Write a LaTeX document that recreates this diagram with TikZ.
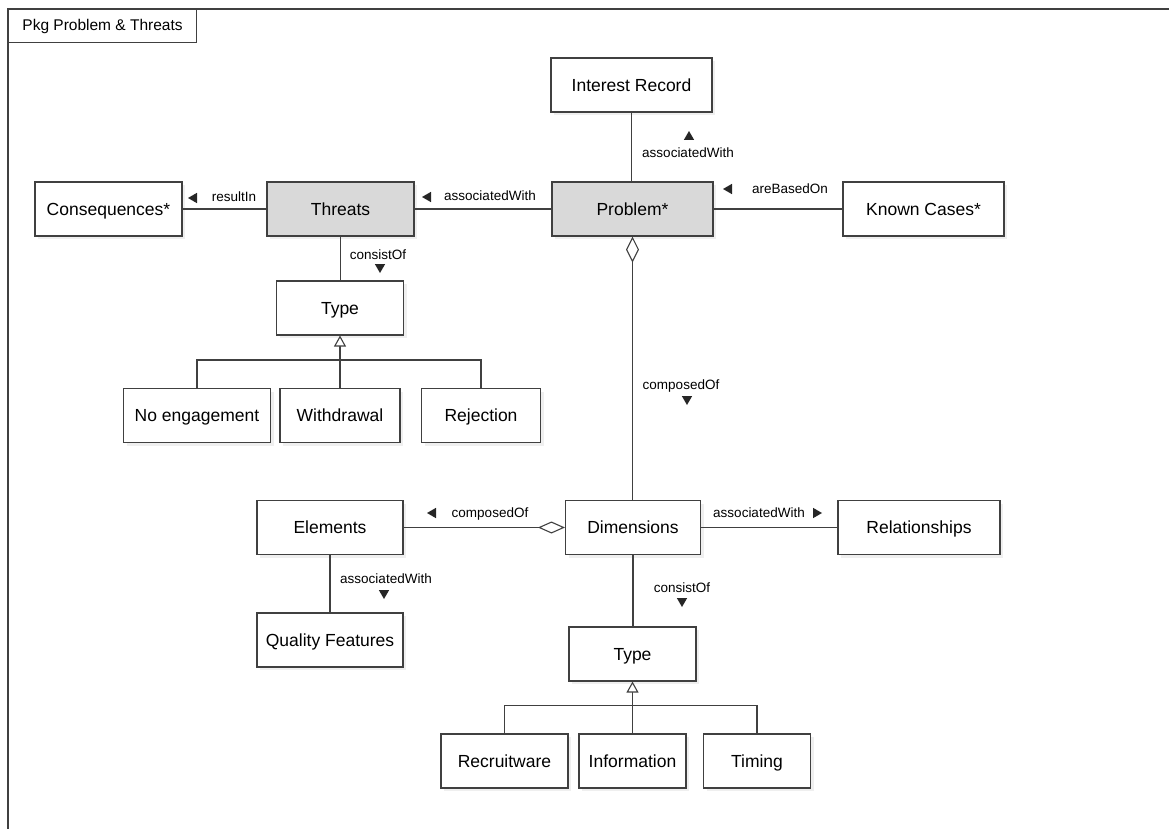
\documentclass[tikz,border=0pt]{standalone}
\usepackage{fontspec}
\setmainfont{Liberation Sans}
\usetikzlibrary{arrows.meta,shapes.geometric,shadows}

\begin{document}
\begin{tikzpicture}[x=1pt,y=-1pt,
    box/.style={draw=black!75,line width=1.1pt,fill=white,minimum height=54pt,inner sep=2pt,
      font=\fontsize{17.5}{20}\selectfont,text height=12.7pt,text depth=0.5pt,
      drop shadow={shadow xshift=3pt,shadow yshift=-3pt,fill=black!10,opacity=0.6}},
    greybox/.style={box,fill=black!15},
    lbl/.style={font=\fontsize{13.5}{15}\selectfont,inner sep=0pt,text height=9.7pt,text depth=0.5pt},
    tri/.style={regular polygon,regular polygon sides=3,fill=black!85,minimum size=12pt,inner sep=0pt},
    conn/.style={draw=black!75,line width=1.1pt}]
  \useasboundingbox (0,0) rectangle (1169,829);

  % package frame
  \draw[black!75,line width=1.6pt] (1169,9) -- (8,9) -- (8,829);
  \node[draw=black!75,line width=1.1pt,fill=white,anchor=north west,minimum width=188pt,minimum height=33pt,
    font=\fontsize{15.5}{17}\selectfont] (pkg) at (8,9) {Pkg Problem \& Threats};

  % classes
  \node[box,minimum width=161pt] (ir) at (631.5,85) {Interest Record};
  \node[greybox,minimum width=161pt] (prob) at (632.5,209) {Problem*};
  \node[greybox,minimum width=147pt] (thr) at (340.5,209) {Threats};
  \node[box,minimum width=147pt] (cons) at (108.5,209) {Consequences*};
  \node[box,minimum width=161pt] (known) at (923.5,209) {Known Cases*};
  \node[box,minimum width=127pt] (typeA) at (340,308) {Type};
  \node[box,minimum width=147pt] (noeng) at (197,415.5) {No engagement};
  \node[box,minimum width=120pt] (wd) at (340,415.5) {Withdrawal};
  \node[box,minimum width=119pt] (rej) at (481,415.5) {Rejection};
  \node[box,minimum width=146pt] (elem) at (330,527.5) {Elements};
  \node[box,minimum width=135pt] (dims) at (633,527.5) {Dimensions};
  \node[box,minimum width=162pt] (rel) at (919,527.5) {Relationships};
  \node[box,minimum width=146pt] (qf) at (330,640) {Quality Features};
  \node[box,minimum width=127pt] (typeB) at (632.5,654) {Type};
  \node[box,minimum width=127pt] (recr) at (504.5,761) {Recruitware};
  \node[box,minimum width=107pt] (info) at (632.5,761) {Information};
  \node[box,minimum width=107pt] (tim) at (757,761) {Timing};

  % associations
  \begin{scope}[conn]
    \draw (ir.south) to (ir.south |- prob.north);
    \draw (thr) to (prob);
    \draw (cons) to (thr);
    \draw (prob) to (known);
    \draw (thr.south) to (thr.south |- typeA.north);
    \draw[{Diamond[open,fill=white,width=13pt,length=26pt]}-] (prob.south) to (prob.south |- dims.north);
    \draw[{Diamond[open,fill=white,width=12pt,length=27pt]}-] (dims) to (elem);
    \draw (dims) to (rel);
    \draw (elem) to (qf);
    \draw (dims.south) to (dims.south |- typeB.north);
    % generalisations
    \draw[-{Triangle[open,fill=white,width=12pt,length=11pt]}] (wd.north) to (wd.north |- typeA.south);
    \draw (noeng.north) -- ++(0,-28) -| (rej.north);
    \draw[-{Triangle[open,fill=white,width=12pt,length=11pt]}] (info.north) to (info.north |- typeB.south);
    \draw (recr.north) -- ++(0,-28) -| (tim.north);
  \end{scope}

  % role names
  \node[lbl] (lIr) at (688,153) {associatedWith};
  \node[tri] (aIr) at (689,137) {};
  \node[lbl] (lTp) at (490,196) {associatedWith};
  \node[tri,regular polygon rotate=90] (aTp) at (428,197) {};
  \node[lbl] (lCt) at (234,197) {resultIn};
  \node[tri,regular polygon rotate=90] (aCt) at (194,198) {};
  \node[lbl] (lPk) at (790,189) {areBasedOn};
  \node[tri,regular polygon rotate=90] (aPk) at (729,189) {};
  \node[lbl] (lTt) at (378,255) {consistOf};
  \node[tri,regular polygon rotate=180] (aTt) at (380,267) {};
  \node[lbl] (lPd) at (681,385) {composedOf};
  \node[tri,regular polygon rotate=180] (aPd) at (687,399) {};
  \node[lbl] (lEd) at (490,513) {composedOf};
  \node[tri,regular polygon rotate=90] (aEd) at (433,513) {};
  \node[lbl] (lDr) at (759,513) {associatedWith};
  \node[tri,regular polygon rotate=-90] (aDr) at (816,513) {};
  \node[lbl] (lEq) at (386,579) {associatedWith};
  \node[tri,regular polygon rotate=180] (aEq) at (384,593) {};
  \node[lbl] (lDt) at (682,588) {consistOf};
  \node[tri,regular polygon rotate=180] (aDt) at (682,601) {};
\end{tikzpicture}
\end{document}
